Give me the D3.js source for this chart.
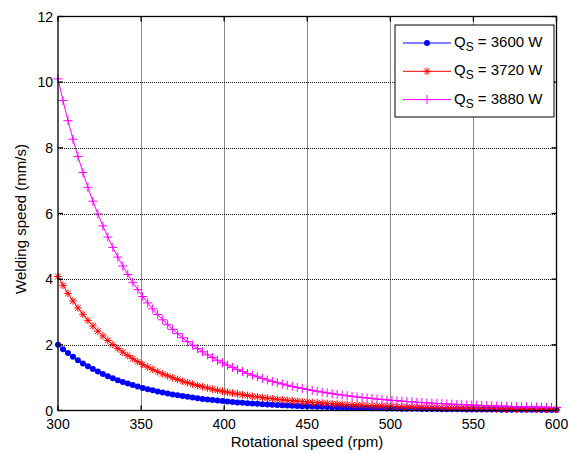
<!DOCTYPE html>
<html>
<head>
<meta charset="utf-8">
<title>Welding speed vs rotational speed</title>
<style>
body { margin: 0; background: #fff; }
svg { display: block; font-family: "Liberation Sans", Arial, sans-serif; }
</style>
<script src="https://d3js.org/d3.v7.min.js"></script>
</head>
<body>
<svg id="chart" width="569" height="453"></svg>
<script>
// rotational speed (rpm), one point every 3 rpm
var rpm = [300,303,306,309,312,315,318,321,324,327,330,333,336,339,342,345,348,351,354,357,
	360,363,366,369,372,375,378,381,384,387,390,393,396,399,402,405,408,411,414,417,
	420,423,426,429,432,435,438,441,444,447,450,453,456,459,462,465,468,471,474,477,
	480,483,486,489,492,495,498,501,504,507,510,513,516,519,522,525,528,531,534,537,
	540,543,546,549,552,555,558,561,564,567,570,573,576,579,582,585,588,591,594,597,600];

// welding speed (mm/s)
var v3600 = [2.000,1.869,1.748,1.636,1.532,1.435,1.346,1.262,1.185,1.113,1.046,0.984,0.925,0.871,0.821,0.773,0.729,0.688,0.649,0.613,
	0.579,0.547,0.517,0.489,0.463,0.439,0.415,0.394,0.373,0.354,0.336,0.319,0.303,0.288,0.273,0.260,0.247,0.235,0.224,0.213,
	0.203,0.193,0.184,0.176,0.168,0.160,0.153,0.146,0.139,0.133,0.127,0.121,0.116,0.111,0.106,0.102,0.097,0.093,0.089,0.085,
	0.082,0.078,0.075,0.072,0.069,0.066,0.064,0.061,0.059,0.056,0.054,0.052,0.050,0.048,0.046,0.044,0.043,0.041,0.040,0.038,
	0.037,0.035,0.034,0.033,0.032,0.030,0.029,0.028,0.027,0.026,0.025,0.025,0.024,0.023,0.022,0.021,0.021,0.020,0.019,0.019,0.018];

var v3720 = [4.080,3.813,3.566,3.337,3.125,2.928,2.745,2.575,2.417,2.271,2.134,2.007,1.888,1.777,1.674,1.577,1.487,1.403,1.324,1.250,
	1.181,1.116,1.055,0.998,0.945,0.895,0.847,0.803,0.761,0.722,0.685,0.650,0.618,0.587,0.558,0.530,0.504,0.480,0.457,0.435,
	0.414,0.395,0.376,0.358,0.342,0.326,0.311,0.297,0.284,0.271,0.259,0.248,0.237,0.226,0.217,0.207,0.198,0.190,0.182,0.174,
	0.167,0.160,0.153,0.147,0.141,0.135,0.130,0.125,0.120,0.115,0.111,0.106,0.102,0.098,0.094,0.091,0.087,0.084,0.081,0.078,
	0.075,0.072,0.069,0.067,0.064,0.062,0.060,0.058,0.056,0.054,0.052,0.050,0.048,0.047,0.045,0.044,0.042,0.040,0.039,0.038,0.037];

var v3880 = [10.100,9.439,8.827,8.261,7.736,7.248,6.795,6.375,5.984,5.621,5.283,4.967,4.673,4.400,4.144,3.905,3.681,3.472,3.277,3.095,
	2.923,2.763,2.613,2.471,2.339,2.215,2.098,1.988,1.885,1.788,1.697,1.610,1.529,1.452,1.381,1.312,1.248,1.188,1.130,1.076,
	1.025,0.977,0.930,0.887,0.846,0.808,0.771,0.735,0.703,0.671,0.641,0.613,0.586,0.561,0.536,0.513,0.491,0.470,0.450,0.431,
	0.413,0.396,0.380,0.365,0.349,0.335,0.322,0.309,0.297,0.285,0.274,0.263,0.253,0.243,0.233,0.224,0.216,0.208,0.200,0.193,
	0.186,0.179,0.172,0.166,0.160,0.154,0.148,0.143,0.138,0.133,0.128,0.124,0.119,0.115,0.111,0.108,0.104,0.100,0.097,0.094,0.091];

var seriesNames = ["3600", "3720", "3880"];
var seriesColors = ["#0000ff", "#ff0000", "#ff00ff"];
var seriesMarks = ["dot", "star", "plus"];
var xTicks = [300, 350, 400, 450, 500, 550, 600];
var yTicks = [0, 2, 4, 6, 8, 10, 12];

var svg = d3.select("#chart");
// plot box (window.top is reserved, so own names)
var pL = 58, pR = 556.5, pT = 16.5, pB = 410.5;

var x = d3.scaleLinear().domain([300, 600]).range([pL, pR]);
var y = d3.scaleLinear().domain([0, 12]).range([pB, pT]);

// grid
var grid = svg.append("g")
	.attr("stroke", "#111")
	.attr("stroke-width", 1)
	.attr("stroke-dasharray", "1,1");
xTicks.slice(1, -1).forEach(function(t) {
	var gx = Math.round(x(t)) + 0.5;
	grid.append("line").attr("x1", gx).attr("x2", gx).attr("y1", pT).attr("y2", pB);
});
yTicks.slice(1, -1).forEach(function(t) {
	var gy = Math.round(y(t)) + 0.5;
	grid.append("line").attr("x1", pL).attr("x2", pR).attr("y1", gy).attr("y2", gy);
});

// curves
var data = [v3600, v3720, v3880];

function drawMark(g, kind, cx, cy, color) {
	if (kind == "dot") {
		g.append("circle").attr("cx", cx).attr("cy", cy).attr("r", 3).attr("fill", color);
	} else if (kind == "star") {
		var s = 3.8, d = 2.8;
		g.append("path")
			.attr("d", "M" + (cx - s) + "," + cy + "H" + (cx + s) +
				"M" + cx + "," + (cy - s) + "V" + (cy + s) +
				"M" + (cx - d) + "," + (cy - d) + "L" + (cx + d) + "," + (cy + d) +
				"M" + (cx - d) + "," + (cy + d) + "L" + (cx + d) + "," + (cy - d))
			.attr("stroke", color).attr("stroke-width", 1).attr("fill", "none");
	} else {
		var p = 4.5;
		g.append("path")
			.attr("d", "M" + (cx - p) + "," + cy + "H" + (cx + p) + "M" + cx + "," + (cy - p) + "V" + (cy + p))
			.attr("stroke", color).attr("stroke-width", 1).attr("fill", "none");
	}
}

var line = d3.line()
	.x(function(d, i) { return x(rpm[i]); })
	.y(function(d) { return y(d); });

var plot = svg.append("g");
data.forEach(function(vals, s) {
	plot.append("path")
		.attr("d", line(vals))
		.attr("fill", "none")
		.attr("stroke", seriesColors[s])
		.attr("stroke-width", 1);
	var mg = plot.append("g");
	vals.forEach(function(v, i) {
		drawMark(mg, seriesMarks[s], x(rpm[i]), y(v), seriesColors[s]);
	});
});

// axes box and ticks (inside, like matlab)
var ax = svg.append("g").attr("stroke", "#000").attr("stroke-width", 1.3);
ax.append("rect").attr("x", pL).attr("y", pT).attr("width", pR - pL).attr("height", pB - pT).attr("fill", "none");
xTicks.forEach(function(t) {
	ax.append("line").attr("x1", x(t)).attr("x2", x(t)).attr("y1", pB).attr("y2", pB - 5);
	ax.append("line").attr("x1", x(t)).attr("x2", x(t)).attr("y1", pT).attr("y2", pT + 5);
});
yTicks.forEach(function(t) {
	ax.append("line").attr("x1", pL).attr("x2", pL + 5).attr("y1", y(t)).attr("y2", y(t));
	ax.append("line").attr("x1", pR).attr("x2", pR - 5).attr("y1", y(t)).attr("y2", y(t));
});

var labels = svg.append("g").attr("font-size", 14).attr("fill", "#000");
xTicks.forEach(function(t) {
	labels.append("text").attr("x", x(t)).attr("y", pB + 18).attr("text-anchor", "middle").text(t);
});
yTicks.forEach(function(t) {
	labels.append("text").attr("x", pL - 5).attr("y", y(t) + 5).attr("text-anchor", "end").text(t);
});

svg.append("text")
	.attr("x", 307).attr("y", 447)
	.attr("text-anchor", "middle").attr("font-size", 15)
	.text("Rotational speed (rpm)");
svg.append("text")
	.attr("transform", "translate(26,219) rotate(-90)")
	.attr("text-anchor", "middle").attr("font-size", 15)
	.text("Welding speed (mm/s)");

// legend
var lg = svg.append("g");
lg.append("rect").attr("x", 395).attr("y", 25).attr("width", 159).attr("height", 92)
	.attr("fill", "#fff").attr("stroke", "#000").attr("stroke-width", 1);
seriesNames.forEach(function(n, s) {
	var ly = 43 + s * 28.3;
	lg.append("line").attr("x1", 403).attr("x2", 451).attr("y1", ly).attr("y2", ly)
		.attr("stroke", seriesColors[s]).attr("stroke-width", 1);
	drawMark(lg, seriesMarks[s], 427, ly, seriesColors[s]);
	var t = lg.append("text").attr("x", 454).attr("y", ly + 4).attr("font-size", 15);
	t.append("tspan").text("Q");
	t.append("tspan").attr("font-size", 12).attr("dy", 4).text("S");
	t.append("tspan").attr("dy", -4).text(" = " + n + " W");
});
</script>
</body>
</html>
